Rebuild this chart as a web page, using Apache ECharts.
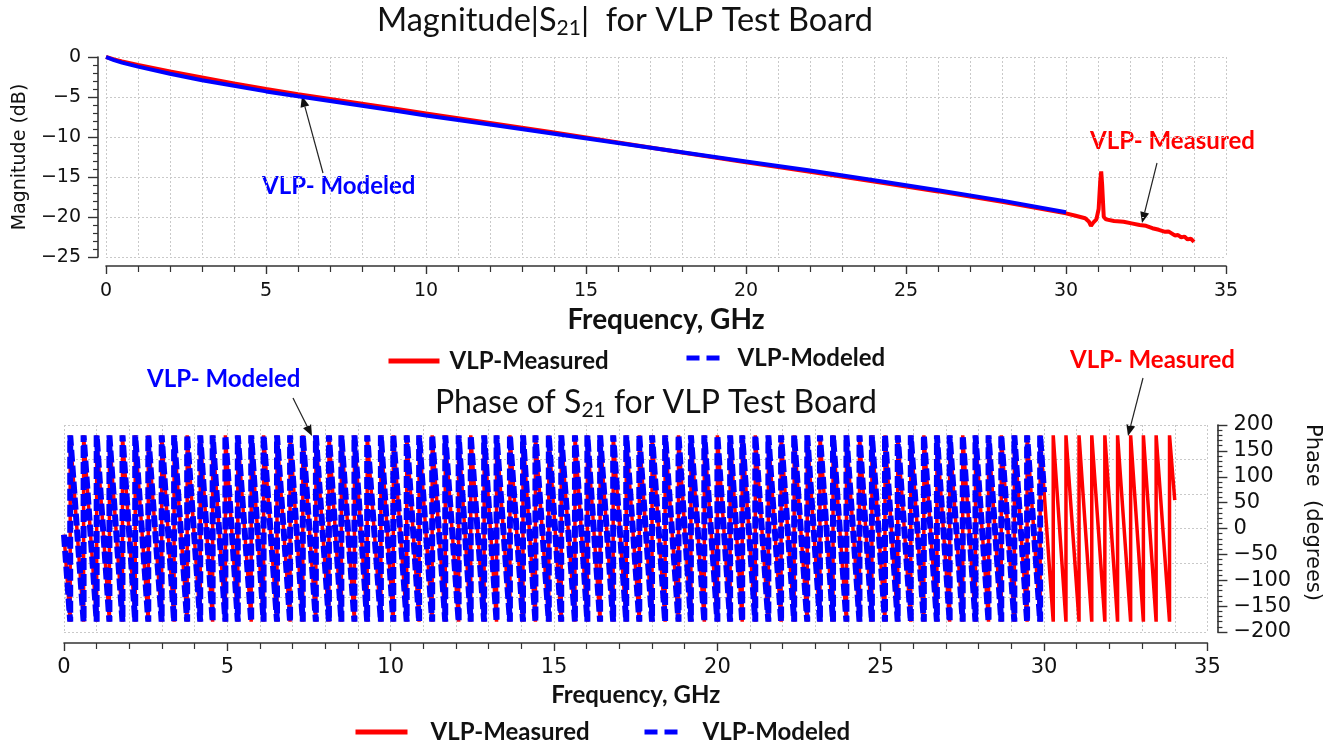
<!DOCTYPE html>
<html>
<head>
<meta charset="utf-8">
<script src="https://cdn.jsdelivr.net/npm/echarts@6/dist/echarts.min.js"></script>
<style>
html,body{margin:0;padding:0;background:#fff;}
#chart{width:1331px;height:742px;}
</style>
</head>
<body>
<div id="chart"></div>
<script>
// ---------- DATA ----------
// Magnitude |S21| (dB) vs frequency (GHz)
const magFreqModeled = [0, 0.25, 0.5, 1, 2, 3, 4, 5, 6, 7, 8, 9, 10, 12, 14, 16, 18, 20, 22, 24, 26, 28, 30];
const magModeled     = [0, -0.4, -0.7, -1.2, -2.1, -2.9, -3.6, -4.3, -4.9, -5.5, -6.1, -6.7, -7.3, -8.45, -9.6, -10.75, -11.9, -13.05, -14.2, -15.4, -16.65, -17.95, -19.4];

const magFreqMeasured = [0, 0.25, 0.5, 1, 2, 3, 4, 5, 6, 7, 8, 9, 10, 12, 14, 16, 18, 20, 22, 24, 26, 28, 30,
  30.3, 30.6, 30.72, 30.78, 30.85, 30.95, 31.02, 31.07, 31.1, 31.13, 31.18, 31.25, 31.5, 31.8, 32.05, 32.3, 32.5,
  32.7, 32.9, 33.1, 33.2, 33.3, 33.4, 33.5, 33.6, 33.7, 33.8, 33.9, 34.0];
const magMeasured = [0, -0.3, -0.55, -1.0, -1.8, -2.55, -3.3, -4.0, -4.65, -5.25, -5.85, -6.45, -7.05, -8.25, -9.45, -10.7, -11.95, -13.15, -14.35, -15.55, -16.8, -18.1, -19.55,
  -19.85, -20.15, -20.6, -21.1, -20.7, -20.3, -19.0, -15.5, -14.3, -16.0, -20.0, -20.3, -20.5, -20.6, -20.8, -21.0, -21.1,
  -21.4, -21.6, -21.85, -21.8, -22.05, -22.3, -22.25, -22.55, -22.45, -22.8, -22.7, -23.1];

// Phase of S21: frequencies (GHz) where the phase wraps from -180 to +180 deg
const phaseWrapGHz = [0.19, 0.60, 1.00, 1.39, 1.79, 2.18, 2.58, 2.99, 3.37, 3.77, 4.17, 4.55, 4.94, 5.32, 5.73, 6.11,
  6.52, 6.92, 7.31, 7.71, 8.11, 8.49, 8.89, 9.28, 9.70, 10.08, 10.49, 10.87, 11.27, 11.67, 12.08, 12.45, 12.86, 13.24,
  13.65, 14.05, 14.43, 14.84, 15.22, 15.64, 16.02, 16.41, 16.81, 17.21, 17.61, 18.00, 18.40, 18.81, 19.19, 19.60,
  20.00, 20.39, 20.76, 21.16, 21.56, 21.95, 22.35, 22.75, 23.14, 23.54, 23.95, 24.35, 24.73, 25.13, 25.52, 25.92,
  26.32, 26.72, 27.11, 27.51, 27.90, 28.30, 28.69, 29.09, 29.48, 29.88, 30.28, 30.67, 31.07, 31.46, 31.86, 32.25,
  32.65, 33.04, 33.43, 33.84];
const phaseStart       = [0, -12];   // [GHz, deg]
const phaseMeasuredEnd = [34.0, 55];
const phaseModeledEnd  = [30.0, 70];

// tick labels
const magTicks = [0, -5, -10, -15, -20, -25];
const phaseTicks = [200, 150, 100, 50, 0, -50, -100, -150, -200];
const freqTicks = [0, 5, 10, 15, 20, 25, 30, 35];

// ---------- build series data ----------
function pairs(xs, ys) { return xs.map((x, i) => [x, ys[i]]); }
function phaseSeries(endPt) {
  const d = [phaseStart.slice()];
  phaseWrapGHz.forEach(w => { if (w < endPt[0]) { d.push([w, -180]); d.push([w, 180]); } });
  d.push(endPt.slice());
  return d;
}

const RED = '#ff0000', BLUE = '#0000ff';
const tickFont = 'DejaVu Sans';
const boldFont = 'Lato';
const minus = v => String(v).replace('-', '\u2212');
const gridDot = { show: true, lineStyle: { color: '#c9c9c9', type: [2, 2], width: 1 } };
const noSymbol = { color: 'rgba(0,0,0,0)', borderColor: 'rgba(0,0,0,0)', borderWidth: 0, opacity: 0 };

function arrow(x1, y1, x2, y2) {
  const ang = Math.atan2(y2 - y1, x2 - x1);
  const L = 11, W = 4.5;
  const bx = x2 - L * Math.cos(ang), by = y2 - L * Math.sin(ang);
  const px = -Math.sin(ang) * W, py = Math.cos(ang) * W;
  return [
    { type: 'line', shape: { x1: x1, y1: y1, x2: bx, y2: by }, style: { stroke: '#222', lineWidth: 1.2 }, silent: true },
    { type: 'polygon', shape: { points: [[x2, y2], [bx + px, by + py], [bx - px, by - py]] }, style: { fill: '#111' }, silent: true }
  ];
}
function label(txt, x, y, color) {
  return { type: 'text', left: x, top: y, style: { text: txt, fill: color, font: 'bold 24px Lato' }, silent: true };
}
function titleRich(size) {
  return {
    t: { fontFamily: 'Lato', fontWeight: 'normal', fontSize: size, color: '#111' },
    s: { fontFamily: 'Lato', fontWeight: 'normal', fontSize: Math.round(size * 0.65), color: '#111', padding: [15, 0, 0, 0] }
  };
}
const legendText = pad => ({ fontFamily: boldFont, fontWeight: 'bold', fontSize: 24, color: '#111', padding: [0, 0, 0, pad] });

const chart = echarts.init(document.getElementById('chart'), null, { renderer: 'canvas' });
const option = {
  animation: false,
  backgroundColor: '#fff',
  title: [
    { text: '{t|Magnitude|S}{s|21}{t||  for VLP Test Board}', left: 377, top: 3, padding: 0,
      textStyle: { fontWeight: 'normal', rich: titleRich(32.5) } },
    { text: '{t|Phase of S}{s|21}{t| for VLP Test Board}', left: 435, top: 385, padding: 0,
      textStyle: { fontWeight: 'normal', rich: titleRich(32) } }
  ],
  legend: [
    { data: ['VLP-Measured'], left: 386, top: 349, padding: 0, itemWidth: 51, itemHeight: 14,
      itemStyle: noSymbol, lineStyle: { width: 5, type: 'solid' }, textStyle: legendText(5) },
    { data: ['VLP-Modeled'], left: 684, top: 346, padding: 0, itemWidth: 33, itemHeight: 14,
      itemStyle: noSymbol, lineStyle: { width: 5, type: [13, 7] }, textStyle: legendText(13) },
    { data: ['VLP-Measured'], left: 353, top: 720, padding: 0, itemWidth: 52, itemHeight: 14,
      itemStyle: noSymbol, lineStyle: { width: 5, type: 'solid' }, textStyle: legendText(18) },
    { data: ['VLP-Modeled'], left: 642, top: 720, padding: 0, itemWidth: 38, itemHeight: 14,
      itemStyle: noSymbol, lineStyle: { width: 5, type: [13, 7] }, textStyle: legendText(15) }
  ],
  grid: [
    { left: 106, right: 105, top: 57, height: 200 },
    { left: 64, width: 1152, top: 425, height: 207 }
  ],
  xAxis: [
    { gridIndex: 0, type: 'value', min: 0, max: 35, interval: 5, offset: 9,
      axisLine: { show: true, onZero: false, lineStyle: { color: '#333', width: 1.6 } },
      axisTick: { show: true, length: 8, lineStyle: { color: '#333', width: 1.4 } },
      minorTick: { show: true, splitNumber: 5, length: 6, lineStyle: { color: '#333', width: 1.2 } },
      splitLine: gridDot, minorSplitLine: gridDot,
      axisLabel: { fontFamily: tickFont, fontSize: 19, color: '#111', margin: 16, formatter: minus },
      name: 'Frequency, GHz', nameLocation: 'middle', nameGap: 40,
      nameTextStyle: { fontFamily: boldFont, fontWeight: 'bold', fontSize: 28, color: '#111' } },
    { gridIndex: 1, type: 'value', min: 0, max: 35, interval: 5, offset: 11,
      axisLine: { show: true, onZero: false, lineStyle: { color: '#333', width: 1.6 } },
      axisTick: { show: true, length: 8, lineStyle: { color: '#333', width: 1.4 } },
      minorTick: { show: true, splitNumber: 5, length: 6, lineStyle: { color: '#333', width: 1.2 } },
      splitLine: gridDot, minorSplitLine: gridDot,
      axisLabel: { fontFamily: tickFont, fontSize: 21, color: '#111', margin: 14, formatter: minus },
      name: 'Frequency, GHz', nameLocation: 'middle', nameGap: 40,
      nameTextStyle: { fontFamily: boldFont, fontWeight: 'bold', fontSize: 24, color: '#111' } }
  ],
  yAxis: [
    { gridIndex: 0, type: 'value', min: -25, max: 0, interval: 5, offset: 8,
      axisLine: { show: true, onZero: false, lineStyle: { color: '#333', width: 1.6 } },
      axisTick: { show: true, length: 10, lineStyle: { color: '#333', width: 1.4 } },
      minorTick: { show: true, splitNumber: 5, length: 5, lineStyle: { color: '#333', width: 1.2 } },
      splitLine: gridDot,
      axisLabel: { fontFamily: tickFont, fontSize: 19, color: '#111', margin: 17, formatter: minus },
      name: 'Magnitude (dB)', nameLocation: 'middle', nameGap: 58,
      nameTextStyle: { fontFamily: tickFont, fontSize: 19, color: '#111' } },
    { gridIndex: 1, type: 'value', position: 'right', min: -200, max: 200, interval: 50, offset: 10,
      axisLine: { show: true, onZero: false, lineStyle: { color: '#333', width: 1.6 } },
      axisTick: { show: true, length: 10, lineStyle: { color: '#333', width: 1.4 } },
      minorTick: { show: true, splitNumber: 5, length: 5, lineStyle: { color: '#333', width: 1.2 } },
      splitLine: { show: false },
      axisLabel: { fontFamily: tickFont, fontSize: 21, color: '#111', margin: 16, formatter: minus },
      name: 'Phase  (degrees)', nameLocation: 'middle', nameGap: 74, nameRotate: -90,
      nameTextStyle: { fontFamily: tickFont, fontSize: 21, color: '#111', padding: [0, 32, 0, 0] } },
    { gridIndex: 1, type: 'value', position: 'left', min: -3, max: 3, interval: 1,
      axisLine: { show: false }, axisTick: { show: false }, axisLabel: { show: false },
      splitLine: gridDot }
  ],
  series: [
    { name: 'VLP-Measured', type: 'line', xAxisIndex: 0, yAxisIndex: 0, data: pairs(magFreqMeasured, magMeasured),
      showSymbol: false, symbol: 'none', lineStyle: { color: RED, width: 4 }, itemStyle: { color: RED }, z: 3 },
    { name: 'VLP-Modeled', type: 'line', xAxisIndex: 0, yAxisIndex: 0, data: pairs(magFreqModeled, magModeled),
      showSymbol: false, symbol: 'none', lineStyle: { color: BLUE, width: 4 }, itemStyle: { color: BLUE }, z: 4 },
    { name: 'VLP-Measured', type: 'line', xAxisIndex: 1, yAxisIndex: 1, data: phaseSeries(phaseMeasuredEnd),
      showSymbol: false, symbol: 'none', lineStyle: { color: RED, width: 3.5 }, itemStyle: { color: RED }, z: 3 },
    { name: 'VLP-Modeled', type: 'line', xAxisIndex: 1, yAxisIndex: 1, data: phaseSeries(phaseModeledEnd),
      showSymbol: false, symbol: 'none', lineStyle: { color: BLUE, width: 6, type: [12, 4] }, itemStyle: { color: BLUE }, z: 4 }
  ],
  graphic: [].concat(
    [label('VLP- Modeled', 262, 174, BLUE), label('VLP- Measured', 1090, 129, RED),
     label('VLP- Modeled', 147, 367, BLUE), label('VLP- Measured', 1070, 348, RED)],
    arrow(323, 173, 302, 96), arrow(1157, 163, 1142, 223),
    arrow(293, 398, 312, 436), arrow(1143, 378, 1128, 436)
  )
};
chart.setOption(option);
</script>
</body>
</html>
